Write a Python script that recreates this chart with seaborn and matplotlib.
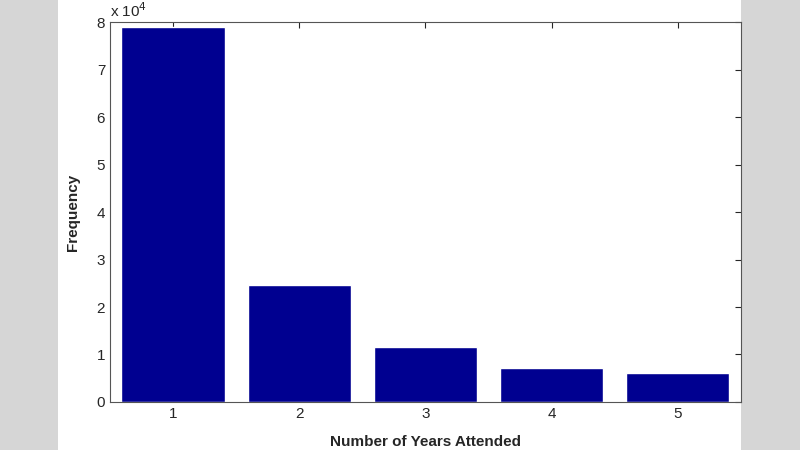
import pandas as pd
from matplotlib import pyplot as plt
import matplotlib.patches as mpatches
import seaborn as sns

years = ["1", "2", "3", "4", "5"]
frequency = [79000, 24700, 11500, 7200, 6000]
yticks = [0, 1, 2, 3, 4, 5, 6, 7, 8]

df = pd.DataFrame({"Years": years, "Frequency": frequency})

sns.set_style("white")
plt.rcParams["font.family"] = ["Liberation Sans", "DejaVu Sans"]

fig = plt.figure(figsize=(8, 4.5), dpi=100)
fig.patch.set_facecolor("#d6d6d6")
# white MATLAB figure panel, behind the axes
fig.patches.append(mpatches.Rectangle((0.0725, 0), 0.854, 1, transform=fig.transFigure,
                                      facecolor="white", edgecolor="none", zorder=-5))
ax = fig.add_axes([0.1375, 0.1067, 0.7885, 0.8443])
ax.set_zorder(1)
ax.set_facecolor("white")

sns.barplot(data=df, x="Years", y="Frequency", color="#000090", width=0.82,
            saturation=1, ax=ax)

ax.set_xlim(-0.5, 4.5)
ax.set_ylim(0, 80000)
ax.set_yticks([v * 10000 for v in yticks])
ax.set_yticklabels([str(v) for v in yticks])
ax.tick_params(direction="in", top=True, right=True, labelsize=11, length=4)
for s in ax.spines.values():
    s.set_visible(True)
    s.set_color("#555555")
    s.set_linewidth(0.8)
ax.set_xlabel("Number of Years Attended", fontsize=11, fontweight="bold", labelpad=10)
ax.set_ylabel("Frequency", fontsize=11, fontweight="bold", labelpad=12)
ax.text(0.0, 1.005, r"x 10$^4$", transform=ax.transAxes, fontsize=11, va="bottom")

fig.savefig("out.png", dpi=100)
